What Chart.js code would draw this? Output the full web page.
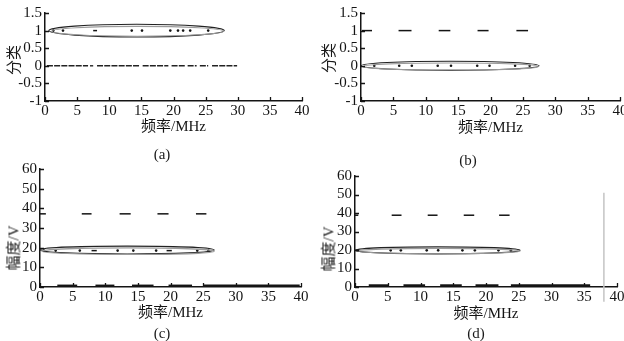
<!DOCTYPE html>
<html>
<head>
<meta charset="utf-8">
<title>分类与幅度</title>
<script src="https://cdn.jsdelivr.net/npm/chart.js"></script>
<style>
  body { margin: 0; background: #fff; font-family: 'Liberation Serif', 'Noto Sans CJK SC', serif; }
  #page { position: relative; width: 624px; height: 341px; overflow: hidden; }
  canvas { position: absolute; }
  .cap { position: absolute; font-size: 15px; color: #1a1a1a; transform: translate(-50%, -50%); white-space: nowrap; }
  .ytitle { position: absolute; font-size: 15px; color: #1a1a1a; transform: translate(-50%, -50%) rotate(-90deg); white-space: nowrap; }
</style>
</head>
<body>
<div id="page">
  <canvas id="chartA"></canvas>
  <canvas id="chartB"></canvas>
  <canvas id="chartC"></canvas>
  <canvas id="chartD"></canvas>
  <div class="ytitle" style="left:12px; top:60px;">分类</div>
  <div class="ytitle" style="left:327px; top:58px;">分类</div>
  <div class="ytitle" style="left:12px; top:248px;">幅度/V</div>
  <div class="ytitle" style="left:327px; top:249px;">幅度/V</div>
  <div class="cap" style="left:162px; top:154px;">(a)</div>
  <div class="cap" style="left:468px; top:160px;">(b)</div>
  <div class="cap" style="left:162px; top:333px;">(c)</div>
  <div class="cap" style="left:476px; top:333px;">(d)</div>
</div>
<script>
// tick values
const freqTicks = [0, 5, 10, 15, 20, 25, 30, 35, 40];
const classTicks = [-1, -0.5, 0, 0.5, 1, 1.5];
const ampTicks = [0, 10, 20, 30, 40, 50, 60];

// (a) class 1 samples inside the ellipse, class 0 run along y = 0
const aOneX = [1.3, 2.8, 13.5, 15.1, 19.5, 20.7, 21.5, 22.6, 25.4];
const aOneDashStart = [7.5];
const aOneDashEnd = [8.1];
const aZeroStart = [0.3, 7.0, 8.1, 15.2, 19.7, 22.2, 24.1, 26.0];
const aZeroEnd = [6.7, 7.5, 14.8, 19.2, 21.8, 23.6, 25.4, 29.9];
const aEllipse = [14.25, 1.0, 13.65, 0.18];     // cx, cy, rx, ry
const aEllipse2 = [14.4, 0.98, 13.4, 0.14];

// (b) class 1 dashes at y = 1, class 0 samples inside the ellipse
const bOneStart = [0.15, 5.8, 12.0, 18.0, 24.0];
const bOneEnd = [1.7, 7.8, 13.8, 19.7, 25.8];
const bZeroX = [2.05, 5.9, 7.85, 11.85, 13.9, 17.95, 19.85, 23.8, 26.05];
const bEllipse = [13.75, 0.0, 13.75, 0.13];
const bEllipse2 = [13.9, -0.02, 13.5, 0.1];

// (c) amplitude
const cHighY = 37.2;
const cHighStart = [0, 6.4, 12.2, 18.0, 23.9];
const cHighEnd = [0.9, 7.9, 13.9, 19.7, 25.5];
const cMidY = 18.5;
const cMidX = [0.6, 2.4, 6.1, 11.9, 14.3, 17.8, 24.1, 25.8];
const cMidDashStart = [7.9, 19.4];
const cMidDashEnd = [8.7, 20.2];
const cLowY = 0.6;
const cLowStart = [2.65, 8.5, 14.1, 19.7, 25.1];
const cLowEnd = [5.7, 11.4, 17.4, 23.3, 39.8];
const cEllipse = [13.35, 18.8, 13.35, 2.0];
const cEllipse2 = [13.5, 18.2, 13.2, 1.7];

// (d) amplitude
const dHighY = 38.8;
const dHighStart = [0, 5.6, 11.1, 16.6, 22.0];
const dHighEnd = [0.5, 7.1, 12.6, 18.2, 23.6];
const dMidY = 19.8;
const dMidX = [0.5, 5.45, 7.0, 10.95, 12.7, 16.4, 18.3, 21.9, 23.8];
const dLowY = 0.8;
const dLowStart = [2.1, 7.4, 13.0, 18.4, 23.8];
const dLowEnd = [5.1, 10.7, 16.3, 21.9, 35.9];
const dEllipse = [12.6, 19.8, 12.6, 1.9];
const dEllipse2 = [12.8, 19.4, 12.4, 1.5];
const dMarkerX = [38.0, 38.0];
const dMarkerY = [-8, 51];

const font = { family: "'Liberation Serif', 'Noto Sans CJK SC', serif", size: 15 };
const ink = '#141414';

function segments(starts, ends, y, color, width, dash) {
  return starts.map((s, i) => ({
    data: [{ x: s, y: y }, { x: ends[i], y: y }],
    showLine: true,
    borderColor: color,
    borderWidth: width,
    borderDash: dash || [],
    pointRadius: 0
  }));
}

function dots(xs, y) {
  return {
    data: xs.map(x => ({ x: x, y: y })),
    pointRadius: 1.3,
    pointBackgroundColor: ink,
    pointBorderWidth: 0,
    showLine: false
  };
}

// plain numbers: 1, 0.5, 0, -1
const plain = v => String(Number(v.toFixed(2)));

function makeChart(id, box, area, yTicks, xTitlePad, datasets, ellipses) {
  const canvas = document.getElementById(id);
  canvas.width = box.w;
  canvas.height = box.h;
  canvas.style.left = box.x + 'px';
  canvas.style.top = box.y + 'px';

  // ellipses drawn through the chart's own scales
  const ellipsePlugin = {
    id: 'ellipses',
    afterDatasetsDraw(chart) {
      const { ctx, scales: { x, y } } = chart;
      ellipses.forEach(e => {
        const v = e.v;
        const cx = x.getPixelForValue(v[0]);
        const cy = y.getPixelForValue(v[1]);
        const rx = Math.abs(x.getPixelForValue(v[0] + v[2]) - cx);
        const ry = Math.abs(y.getPixelForValue(v[1] + v[3]) - cy);
        ctx.save();
        ctx.strokeStyle = e.color;
        ctx.lineWidth = 1.1;
        ctx.beginPath();
        ctx.ellipse(cx, cy, rx, ry, 0, 0, Math.PI * 2);
        ctx.stroke();
        ctx.restore();
      });
    }
  };

  // MATLAB style ticks pointing into the plot
  const inwardTicks = {
    id: 'inwardTicks',
    afterDraw(chart) {
      const { ctx, chartArea, scales: { x, y } } = chart;
      ctx.save();
      ctx.strokeStyle = ink;
      ctx.lineWidth = 1.3;
      ctx.beginPath();
      x.ticks.forEach(t => {
        const px = Math.round(x.getPixelForValue(t.value)) + 0.5;
        ctx.moveTo(px, chartArea.bottom);
        ctx.lineTo(px, chartArea.bottom - 4);
      });
      y.ticks.forEach(t => {
        const py = Math.round(y.getPixelForValue(t.value)) + 0.5;
        ctx.moveTo(chartArea.left, py);
        ctx.lineTo(chartArea.left + 4, py);
      });
      ctx.stroke();
      ctx.restore();
    }
  };

  return new Chart(canvas, {
    type: 'scatter',
    data: { datasets: datasets },
    options: {
      responsive: false,
      animation: false,
      devicePixelRatio: 1,
      layout: { padding: { left: 0, top: area.t - box.y, right: box.x + box.w - area.r, bottom: 0 } },
      plugins: { legend: { display: false }, tooltip: { enabled: false } },
      scales: {
        x: {
          type: 'linear',
          min: freqTicks[0],
          max: freqTicks[freqTicks.length - 1],
          ticks: { stepSize: freqTicks[1] - freqTicks[0], autoSkip: false, maxRotation: 0, padding: 1, color: ink, font: font, callback: plain },
          grid: { display: false, drawTicks: false },
          border: { color: ink, width: 1.5 },
          title: { display: true, text: '频率/MHz', color: ink, font: font, padding: { top: 0, bottom: xTitlePad } },
          afterFit: s => { s.height = box.y + box.h - area.b; s.paddingLeft = 0; s.paddingRight = 0; }
        },
        y: {
          type: 'linear',
          min: yTicks[0],
          max: yTicks[yTicks.length - 1],
          ticks: { stepSize: yTicks[1] - yTicks[0], autoSkip: false, padding: 3, color: ink, font: font, callback: plain },
          grid: { display: false, drawTicks: false },
          border: { color: ink, width: 1.5 },
          afterFit: s => { s.width = area.l - box.x; s.paddingTop = 0; s.paddingBottom = 0; }
        }
      }
    },
    plugins: [ellipsePlugin, inwardTicks]
  });
}

// (a)
makeChart('chartA', { x: 0, y: 0, w: 312, h: 140 }, { l: 45, t: 13, r: 302, b: 101 }, classTicks, 4,
  [dots(aOneX, 1)]
    .concat(segments(aOneDashStart, aOneDashEnd, 1, ink, 1.5))
    .concat(segments(aZeroStart, aZeroEnd, 0, '#222', 1.4, [6, 1.2])),
  [{ v: aEllipse, color: '#222' }, { v: aEllipse2, color: '#9a9a9a' }]);

// (b)
makeChart('chartB', { x: 312, y: 0, w: 312, h: 140 }, { l: 361, t: 13, r: 621, b: 101 }, classTicks, 3,
  [dots(bZeroX, 0)]
    .concat(segments(bOneStart, bOneEnd, 1, ink, 1.5)),
  [{ v: bEllipse, color: '#222' }, { v: bEllipse2, color: '#9a9a9a' }]);

// (c)
makeChart('chartC', { x: 0, y: 150, w: 312, h: 191 }, { l: 40, t: 169, r: 301, b: 287 }, ampTicks, 19,
  [dots(cMidX, cMidY)]
    .concat(segments(cMidDashStart, cMidDashEnd, cMidY, ink, 1.5))
    .concat(segments(cHighStart, cHighEnd, cHighY, ink, 1.5))
    .concat(segments(cLowStart, cLowEnd, cLowY, ink, 2.5)),
  [{ v: cEllipse, color: '#222' }, { v: cEllipse2, color: '#9a9a9a' }]);

// (d)
makeChart('chartD', { x: 312, y: 150, w: 312, h: 191 }, { l: 355, t: 176, r: 617, b: 287 }, ampTicks, 18,
  [dots(dMidX, dMidY)]
    .concat(segments(dHighStart, dHighEnd, dHighY, ink, 1.5))
    .concat(segments(dLowStart, dLowEnd, dLowY, ink, 2.5))
    .concat([{
      data: dMarkerX.map((x, i) => ({ x: x, y: dMarkerY[i] })),
      showLine: true, borderColor: '#c4c4c4', borderWidth: 1.5, pointRadius: 0, clip: false
    }]),
  [{ v: dEllipse, color: '#222' }, { v: dEllipse2, color: '#9a9a9a' }]);
</script>
</body>
</html>
